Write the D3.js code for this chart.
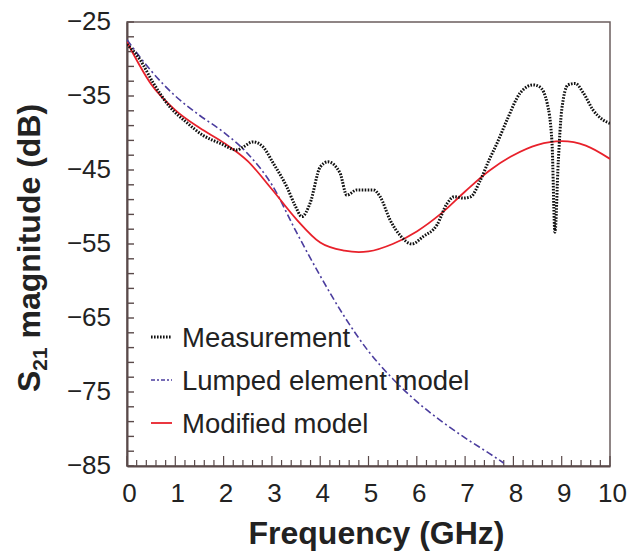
<!DOCTYPE html>
<html>
<head>
<meta charset="utf-8">
<script src="https://cdn.jsdelivr.net/npm/d3@7"></script>
<style>
  body { margin: 0; background: #fff; }
  text { font-family: "Liberation Sans", Arial, sans-serif; fill: #222; }
</style>
</head>
<body>
<script>
// measurement (GHz, dB)
const measFreq = [0, 0.27, 0.54, 0.89, 1.24, 1.57, 1.93, 2.28, 2.4, 2.61, 2.82, 3.02, 3.31, 3.48, 3.62, 3.79, 4.0, 4.16, 4.41, 4.55, 4.76, 5.1, 5.24, 5.45, 5.65, 5.9, 6.13, 6.42, 6.62, 6.78, 6.96, 7.12, 7.3, 7.5, 7.66, 7.87, 8.14, 8.41, 8.55, 8.7, 8.8, 8.86, 8.93, 9.0, 9.13, 9.28, 9.45, 9.65, 9.85, 10];
const measDb   = [-28.0, -30.1, -33.2, -36.5, -38.6, -40.3, -41.4, -42.3, -41.9, -41.2, -41.9, -44.0, -47.3, -49.8, -51.3, -49.5, -44.6, -43.9, -45.4, -48.4, -47.7, -47.7, -48.6, -51.8, -53.8, -55.0, -54.0, -52.4, -49.6, -48.6, -48.8, -48.6, -46.6, -43.6, -41.4, -38.2, -34.6, -33.5, -33.8, -36.0, -41.4, -53.4, -43.7, -36.9, -33.5, -33.3, -34.6, -36.9, -38.2, -38.7];

// lumped element model
const lumpFreq = [0, 0.5, 1.0, 1.5, 2.0, 2.5, 3.0, 3.5, 4.0, 4.5, 5.0, 5.5, 6.0, 6.5, 7.0, 7.5, 7.8];
const lumpDb   = [-27.4, -31.6, -35.0, -37.6, -39.9, -42.8, -47.0, -53.3, -59.3, -64.8, -69.5, -73.2, -76.3, -78.9, -81.2, -83.3, -84.6];

// modified model
const modFreq = [0, 0.5, 1.0, 1.5, 2.0, 2.5, 3.0, 3.5, 4.0, 4.5, 4.8, 5.0, 5.5, 6.0, 6.5, 7.0, 7.5, 8.0, 8.5, 9.0, 9.5, 10];
const modDb   = [-27.7, -33.4, -36.9, -39.3, -41.3, -43.8, -47.6, -51.6, -54.8, -55.9, -56.1, -56.0, -55.0, -53.3, -50.9, -47.9, -45.1, -43.0, -41.6, -41.1, -41.7, -43.5];

const xTicks = [0, 1, 2, 3, 4, 5, 6, 7, 8, 9, 10];
const yTicks = [-25, -35, -45, -55, -65, -75, -85];
const legendNames = ["Measurement", "Lumped element model", "Modified model"];

const W = 628, H = 554;
const margin = {top: 22, right: 18, bottom: 88, left: 127};
const width  = W - margin.left - margin.right;
const height = H - margin.top - margin.bottom;

const svg = d3.select("body").append("svg")
  .attr("width", W)
  .attr("height", H);

const xScale = d3.scaleLinear().domain([0, 10]).range([0, width]);
const yScale = d3.scaleLinear().domain([-85, -25]).range([height, 0]);

const g = svg.append("g")
  .attr("transform", `translate(${margin.left},${margin.top})`);

svg.append("defs").append("clipPath").attr("id", "clip")
  .append("rect").attr("width", width).attr("height", height);

// frame (top / right)
g.append("rect")
  .attr("width", width).attr("height", height)
  .attr("fill", "none").attr("stroke", "#6b5e5e").attr("stroke-width", 1.5);

// minor ticks, drawn inward
const xMinor = d3.range(0, 10.001, 0.2);
const yMinor = d3.range(-85, -24.999, 2);
const axisCol = "#5a4a4a";

g.append("g").selectAll("line").data(xMinor).join("line")
  .attr("x1", d => xScale(d)).attr("x2", d => xScale(d))
  .attr("y1", height)
  .attr("y2", d => height - (Math.abs(d - Math.round(d)) < 1e-6 ? 10 : 6))
  .attr("stroke", axisCol).attr("stroke-width", 1.2);

g.append("g").selectAll("line").data(yMinor).join("line")
  .attr("y1", d => yScale(d)).attr("y2", d => yScale(d))
  .attr("x1", 0).attr("x2", 7)
  .attr("stroke", axisCol).attr("stroke-width", 1.4);

// axes
const xAxis = d3.axisBottom(xScale).tickValues(xTicks).tickSize(0).tickPadding(18);
const yAxis = d3.axisLeft(yScale).tickValues(yTicks).tickSize(0).tickPadding(16);

const gx = g.append("g").attr("transform", `translate(0,${height})`).call(xAxis);
gx.select(".domain").attr("stroke", axisCol).attr("stroke-width", 2);
gx.selectAll("text").attr("font-size", 26).attr("dx", 2).attr("fill", "#222");

const gy = g.append("g").call(yAxis);
gy.select(".domain").attr("stroke", axisCol).attr("stroke-width", 2);
gy.selectAll("text").attr("font-size", 26).attr("dy", "0.28em").attr("fill", "#222");

// lines
const line = d3.line()
  .x(d => xScale(d[0]))
  .y(d => yScale(d[1]))
  .curve(d3.curveMonotoneX);

const plot = g.append("g").attr("clip-path", "url(#clip)");

const series = [
  {f: lumpFreq, v: lumpDb, color: "#4b3d9e", width: 1.6, dash: "7,3,2,3"},
  {f: modFreq,  v: modDb,  color: "#e8212b", width: 1.8, dash: null},
  {f: measFreq, v: measDb, color: "#111",    width: 3,   dash: "1.6,1.4"}
];

series.forEach(s => {
  plot.append("path")
    .datum(d3.zip(s.f, s.v))
    .attr("fill", "none")
    .attr("stroke", s.color)
    .attr("stroke-width", s.width)
    .attr("stroke-dasharray", s.dash)
    .attr("d", line);
});

// legend
const legendStyle = [
  {color: "#111", width: 3, dash: "1.6,1.4"},
  {color: "#4b3d9e", width: 1.6, dash: "4,2,2,2"},
  {color: "#e8212b", width: 1.8, dash: null}
];
const lg = svg.append("g");
legendNames.forEach((name, i) => {
  const y = 337 + i * 43;
  lg.append("line")
    .attr("x1", 151).attr("x2", 172).attr("y1", y).attr("y2", y)
    .attr("stroke", legendStyle[i].color)
    .attr("stroke-width", legendStyle[i].width)
    .attr("stroke-dasharray", legendStyle[i].dash);
  lg.append("text")
    .attr("x", 182).attr("y", y).attr("dy", "0.36em")
    .attr("font-size", 27.5)
    .text(name);
});

// axis titles
svg.append("text")
  .attr("x", margin.left + width / 2 + 8).attr("y", 544)
  .attr("text-anchor", "middle")
  .attr("font-size", 32).attr("font-weight", "bold")
  .text("Frequency (GHz)");

const yt = svg.append("text")
  .attr("transform", "translate(40,248) rotate(-90)")
  .attr("text-anchor", "middle")
  .attr("font-size", 32).attr("font-weight", "bold");
yt.append("tspan").text("S");
yt.append("tspan").attr("font-size", 21).attr("dy", 7).text("21");
yt.append("tspan").attr("dy", -7).text(" magnitude (dB)");
</script>
</body>
</html>
